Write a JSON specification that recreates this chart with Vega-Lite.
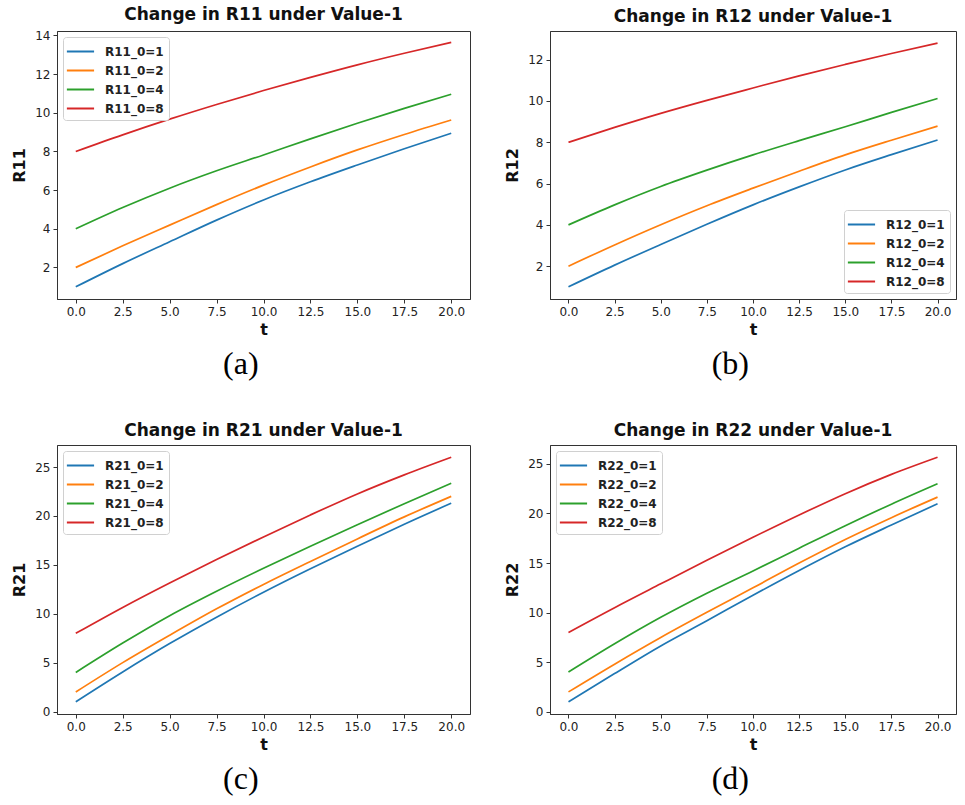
{
  "$schema": "https://vega.github.io/schema/vega-lite/v6.json",
  "background": "white",
  "padding": {"left": 11, "top": 5, "right": 5, "bottom": 3},
  "config": {
    "view": {"stroke": "#333", "strokeWidth": 1},
    "font": "DejaVu Sans",
    "axis": {"labelFont": "DejaVu Sans", "labelFontSize": 12, "labelColor": "#222", "titleFont": "DejaVu Sans", "titleFontWeight": "bold", "titleFontSize": 16, "titleColor": "#111", "tickColor": "#333", "domainColor": "#333", "grid": false, "tickSize": 4, "labelPadding": 3, "titlePadding": 4},
    "axisY": {"titlePadding": 7},
    "title": {"font": "DejaVu Sans", "fontSize": 17, "fontWeight": "bold", "color": "#111", "offset": 5},
    "legend": {"strokeColor": "#d0d0d0", "fillColor": "white", "padding": 5, "cornerRadius": 3, "offset": 6, "labelFont": "DejaVu Sans", "labelFontWeight": "bold", "labelFontSize": 12, "labelColor": "#222", "symbolType": "M-1.25,0H1.95", "symbolSize": 289, "symbolStrokeWidth": 2, "rowPadding": 3, "labelOffset": 18}
  },
  "datasets": {
    "r11": [
      {"t":0,"s":"R11_0=1","v":1},{"t":2.5,"s":"R11_0=1","v":2.2},{"t":5,"s":"R11_0=1","v":3.33},{"t":7.5,"s":"R11_0=1","v":4.45},{"t":10,"s":"R11_0=1","v":5.49},{"t":12.5,"s":"R11_0=1","v":6.43},{"t":15,"s":"R11_0=1","v":7.3},{"t":17.5,"s":"R11_0=1","v":8.14},{"t":20,"s":"R11_0=1","v":8.94},
      {"t":0,"s":"R11_0=2","v":2},{"t":2.5,"s":"R11_0=2","v":3.12},{"t":5,"s":"R11_0=2","v":4.19},{"t":7.5,"s":"R11_0=2","v":5.25},{"t":10,"s":"R11_0=2","v":6.26},{"t":12.5,"s":"R11_0=2","v":7.2},{"t":15,"s":"R11_0=2","v":8.08},{"t":17.5,"s":"R11_0=2","v":8.88},{"t":20,"s":"R11_0=2","v":9.63},
      {"t":0,"s":"R11_0=4","v":4},{"t":2.5,"s":"R11_0=4","v":5.1},{"t":5,"s":"R11_0=4","v":6.1},{"t":7.5,"s":"R11_0=4","v":7.0},{"t":10,"s":"R11_0=4","v":7.82},{"t":12.5,"s":"R11_0=4","v":8.65},{"t":15,"s":"R11_0=4","v":9.46},{"t":17.5,"s":"R11_0=4","v":10.23},{"t":20,"s":"R11_0=4","v":10.96},
      {"t":0,"s":"R11_0=8","v":8},{"t":2.5,"s":"R11_0=8","v":8.86},{"t":5,"s":"R11_0=8","v":9.67},{"t":7.5,"s":"R11_0=8","v":10.43},{"t":10,"s":"R11_0=8","v":11.15},{"t":12.5,"s":"R11_0=8","v":11.83},{"t":15,"s":"R11_0=8","v":12.48},{"t":17.5,"s":"R11_0=8","v":13.08},{"t":20,"s":"R11_0=8","v":13.64}
    ],
    "r12": [
      {"t":0,"s":"R12_0=1","v":1},{"t":2.5,"s":"R12_0=1","v":2.05},{"t":5,"s":"R12_0=1","v":3.05},{"t":7.5,"s":"R12_0=1","v":4.03},{"t":10,"s":"R12_0=1","v":4.97},{"t":12.5,"s":"R12_0=1","v":5.84},{"t":15,"s":"R12_0=1","v":6.66},{"t":17.5,"s":"R12_0=1","v":7.4},{"t":20,"s":"R12_0=1","v":8.11},
      {"t":0,"s":"R12_0=2","v":2},{"t":2.5,"s":"R12_0=2","v":3.03},{"t":5,"s":"R12_0=2","v":4.01},{"t":7.5,"s":"R12_0=2","v":4.93},{"t":10,"s":"R12_0=2","v":5.78},{"t":12.5,"s":"R12_0=2","v":6.6},{"t":15,"s":"R12_0=2","v":7.39},{"t":17.5,"s":"R12_0=2","v":8.1},{"t":20,"s":"R12_0=2","v":8.78},
      {"t":0,"s":"R12_0=4","v":4},{"t":2.5,"s":"R12_0=4","v":4.97},{"t":5,"s":"R12_0=4","v":5.86},{"t":7.5,"s":"R12_0=4","v":6.65},{"t":10,"s":"R12_0=4","v":7.39},{"t":12.5,"s":"R12_0=4","v":8.08},{"t":15,"s":"R12_0=4","v":8.75},{"t":17.5,"s":"R12_0=4","v":9.45},{"t":20,"s":"R12_0=4","v":10.12},
      {"t":0,"s":"R12_0=8","v":8},{"t":2.5,"s":"R12_0=8","v":8.72},{"t":5,"s":"R12_0=8","v":9.4},{"t":7.5,"s":"R12_0=8","v":10.03},{"t":10,"s":"R12_0=8","v":10.63},{"t":12.5,"s":"R12_0=8","v":11.22},{"t":15,"s":"R12_0=8","v":11.77},{"t":17.5,"s":"R12_0=8","v":12.3},{"t":20,"s":"R12_0=8","v":12.8}
    ],
    "r21": [
      {"t":0,"s":"R21_0=1","v":1},{"t":2.5,"s":"R21_0=1","v":4.05},{"t":5,"s":"R21_0=1","v":6.95},{"t":7.5,"s":"R21_0=1","v":9.65},{"t":10,"s":"R21_0=1","v":12.2},{"t":12.5,"s":"R21_0=1","v":14.6},{"t":15,"s":"R21_0=1","v":16.9},{"t":17.5,"s":"R21_0=1","v":19.15},{"t":20,"s":"R21_0=1","v":21.3},
      {"t":0,"s":"R21_0=2","v":2},{"t":2.5,"s":"R21_0=2","v":5.0},{"t":5,"s":"R21_0=2","v":7.8},{"t":7.5,"s":"R21_0=2","v":10.5},{"t":10,"s":"R21_0=2","v":13.0},{"t":12.5,"s":"R21_0=2","v":15.35},{"t":15,"s":"R21_0=2","v":17.65},{"t":17.5,"s":"R21_0=2","v":19.9},{"t":20,"s":"R21_0=2","v":22.0},
      {"t":0,"s":"R21_0=4","v":4},{"t":2.5,"s":"R21_0=4","v":7.0},{"t":5,"s":"R21_0=4","v":9.8},{"t":7.5,"s":"R21_0=4","v":12.3},{"t":10,"s":"R21_0=4","v":14.65},{"t":12.5,"s":"R21_0=4","v":16.9},{"t":15,"s":"R21_0=4","v":19.1},{"t":17.5,"s":"R21_0=4","v":21.25},{"t":20,"s":"R21_0=4","v":23.33},
      {"t":0,"s":"R21_0=8","v":8},{"t":2.5,"s":"R21_0=8","v":10.65},{"t":5,"s":"R21_0=8","v":13.15},{"t":7.5,"s":"R21_0=8","v":15.55},{"t":10,"s":"R21_0=8","v":17.85},{"t":12.5,"s":"R21_0=8","v":20.1},{"t":15,"s":"R21_0=8","v":22.25},{"t":17.5,"s":"R21_0=8","v":24.2},{"t":20,"s":"R21_0=8","v":26.0}
    ],
    "r22": [
      {"t":0,"s":"R22_0=1","v":1},{"t":2.5,"s":"R22_0=1","v":3.85},{"t":5,"s":"R22_0=1","v":6.64},{"t":7.5,"s":"R22_0=1","v":9.18},{"t":10,"s":"R22_0=1","v":11.75},{"t":12.5,"s":"R22_0=1","v":14.25},{"t":15,"s":"R22_0=1","v":16.64},{"t":17.5,"s":"R22_0=1","v":18.84},{"t":20,"s":"R22_0=1","v":20.98},
      {"t":0,"s":"R22_0=2","v":2},{"t":2.5,"s":"R22_0=2","v":4.8},{"t":5,"s":"R22_0=2","v":7.49},{"t":7.5,"s":"R22_0=2","v":10.03},{"t":10,"s":"R22_0=2","v":12.5},{"t":12.5,"s":"R22_0=2","v":15.0},{"t":15,"s":"R22_0=2","v":17.38},{"t":17.5,"s":"R22_0=2","v":19.58},{"t":20,"s":"R22_0=2","v":21.65},
      {"t":0,"s":"R22_0=4","v":4},{"t":2.5,"s":"R22_0=4","v":6.85},{"t":5,"s":"R22_0=4","v":9.52},{"t":7.5,"s":"R22_0=4","v":11.95},{"t":10,"s":"R22_0=4","v":14.2},{"t":12.5,"s":"R22_0=4","v":16.5},{"t":15,"s":"R22_0=4","v":18.77},{"t":17.5,"s":"R22_0=4","v":20.94},{"t":20,"s":"R22_0=4","v":23.0},
      {"t":0,"s":"R22_0=8","v":8},{"t":2.5,"s":"R22_0=8","v":10.5},{"t":5,"s":"R22_0=8","v":12.9},{"t":7.5,"s":"R22_0=8","v":15.28},{"t":10,"s":"R22_0=8","v":17.6},{"t":12.5,"s":"R22_0=8","v":19.85},{"t":15,"s":"R22_0=8","v":22.0},{"t":17.5,"s":"R22_0=8","v":23.95},{"t":20,"s":"R22_0=8","v":25.68}
    ]
  },
  "resolve": {"scale": {"x": "independent", "y": "independent", "color": "independent"}, "legend": {"color": "independent"}, "axis": {"x": "independent", "y": "independent"}},
  "spacing": 41,
  "vconcat": [
    {
      "hconcat": [
        {
          "title": {"text": "(a)", "orient": "bottom", "font": "Liberation Serif", "fontSize": 32, "fontWeight": "normal", "color": "#000", "anchor": "middle", "frame": "bounds", "offset": 11},
          "resolve": {"scale": {"color": "independent"}, "legend": {"color": "independent"}},
          "vconcat": [
            {
              "width": 413, "height": 268,
              "title": "Change in R11 under Value-1",
              "data": {"name": "r11"},
              "mark": {"type": "line", "strokeWidth": 1.7, "interpolate": "monotone"},
              "encoding": {
                "x": {"field": "t", "type": "quantitative", "scale": {"domain": [-1, 21], "nice": false, "zero": false}, "axis": {"values": [0, 2.5, 5, 7.5, 10, 12.5, 15, 17.5, 20], "format": ".1f", "title": "t"}},
                "y": {"field": "v", "type": "quantitative", "scale": {"domain": [0.37, 14.23], "nice": false, "zero": false}, "axis": {"values": [2, 4, 6, 8, 10, 12, 14], "title": "R11"}},
                "color": {"field": "s", "type": "nominal", "scale": {"range": ["#1f77b4", "#ff7f0e", "#2ca02c", "#d62728"]}, "legend": {"orient": "top-left", "title": null}}
              }
            }
          ]
        },
        {
          "title": {"text": "(b)", "orient": "bottom", "font": "Liberation Serif", "fontSize": 32, "fontWeight": "normal", "color": "#000", "anchor": "middle", "frame": "bounds", "offset": 11},
          "resolve": {"scale": {"color": "independent"}, "legend": {"color": "independent"}},
          "vconcat": [
            {
              "width": 406, "height": 268,
              "title": "Change in R12 under Value-1",
              "data": {"name": "r12"},
              "mark": {"type": "line", "strokeWidth": 1.7, "interpolate": "monotone"},
              "encoding": {
                "x": {"field": "t", "type": "quantitative", "scale": {"domain": [-1, 21], "nice": false, "zero": false}, "axis": {"values": [0, 2.5, 5, 7.5, 10, 12.5, 15, 17.5, 20], "format": ".1f", "title": "t"}},
                "y": {"field": "v", "type": "quantitative", "scale": {"domain": [0.41, 13.39], "nice": false, "zero": false}, "axis": {"values": [2, 4, 6, 8, 10, 12], "title": "R12"}},
                "color": {"field": "s", "type": "nominal", "scale": {"range": ["#1f77b4", "#ff7f0e", "#2ca02c", "#d62728"]}, "legend": {"orient": "bottom-right", "title": null}}
              }
            }
          ]
        }
      ],
      "spacing": 33,
      "resolve": {"scale": {"x": "independent", "y": "independent", "color": "independent"}, "legend": {"color": "independent"}}
    },
    {
      "hconcat": [
        {
          "title": {"text": "(c)", "orient": "bottom", "font": "Liberation Serif", "fontSize": 32, "fontWeight": "normal", "color": "#000", "anchor": "middle", "frame": "bounds", "offset": 11},
          "resolve": {"scale": {"color": "independent"}, "legend": {"color": "independent"}},
          "vconcat": [
            {
              "width": 413, "height": 269,
              "title": "Change in R21 under Value-1",
              "data": {"name": "r21"},
              "mark": {"type": "line", "strokeWidth": 1.7, "interpolate": "monotone"},
              "encoding": {
                "x": {"field": "t", "type": "quantitative", "scale": {"domain": [-1, 21], "nice": false, "zero": false}, "axis": {"values": [0, 2.5, 5, 7.5, 10, 12.5, 15, 17.5, 20], "format": ".1f", "title": "t"}},
                "y": {"field": "v", "type": "quantitative", "scale": {"domain": [-0.25, 27.25], "nice": false, "zero": false}, "axis": {"values": [0, 5, 10, 15, 20, 25], "title": "R21"}},
                "color": {"field": "s", "type": "nominal", "scale": {"range": ["#1f77b4", "#ff7f0e", "#2ca02c", "#d62728"]}, "legend": {"orient": "top-left", "title": null}}
              }
            }
          ]
        },
        {
          "title": {"text": "(d)", "orient": "bottom", "font": "Liberation Serif", "fontSize": 32, "fontWeight": "normal", "color": "#000", "anchor": "middle", "frame": "bounds", "offset": 11},
          "resolve": {"scale": {"color": "independent"}, "legend": {"color": "independent"}},
          "vconcat": [
            {
              "width": 406, "height": 269,
              "title": "Change in R22 under Value-1",
              "data": {"name": "r22"},
              "mark": {"type": "line", "strokeWidth": 1.7, "interpolate": "monotone"},
              "encoding": {
                "x": {"field": "t", "type": "quantitative", "scale": {"domain": [-1, 21], "nice": false, "zero": false}, "axis": {"values": [0, 2.5, 5, 7.5, 10, 12.5, 15, 17.5, 20], "format": ".1f", "title": "t"}},
                "y": {"field": "v", "type": "quantitative", "scale": {"domain": [-0.23, 26.91], "nice": false, "zero": false}, "axis": {"values": [0, 5, 10, 15, 20, 25], "title": "R22"}},
                "color": {"field": "s", "type": "nominal", "scale": {"range": ["#1f77b4", "#ff7f0e", "#2ca02c", "#d62728"]}, "legend": {"orient": "top-left", "title": null}}
              }
            }
          ]
        }
      ],
      "spacing": 33,
      "resolve": {"scale": {"x": "independent", "y": "independent", "color": "independent"}, "legend": {"color": "independent"}}
    }
  ]
}
